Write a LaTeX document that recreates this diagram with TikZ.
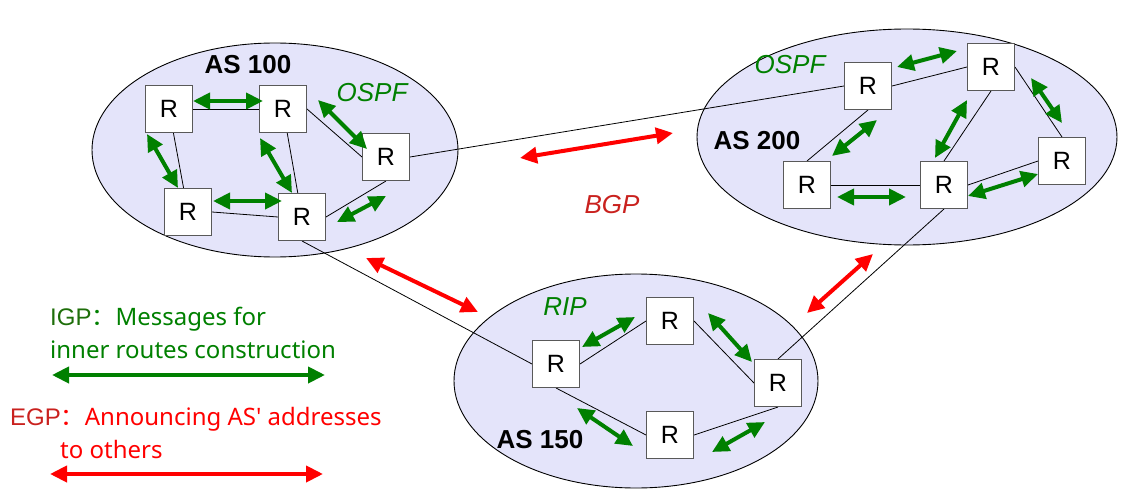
\documentclass[tikz,border=0pt]{standalone}
\usepackage{fontspec}
\setmainfont{Liberation Sans}
\newfontfamily\legendfont{Noto Sans}
\newfontfamily\cjkfont{Noto Sans CJK SC}
\usetikzlibrary{arrows.meta}
\definecolor{asfill}{RGB}{228,228,250}
\definecolor{igpgreen}{RGB}{0,128,0}
\definecolor{igpdark}{RGB}{30,110,10}
\definecolor{egpred}{RGB}{255,0,0}
\definecolor{bgpred}{RGB}{201,33,30}

\begin{document}
\begin{tikzpicture}[x=1pt, y=-1pt,
  router/.style={draw=black!65, fill=white, line width=1pt, minimum size=47pt, inner sep=0pt, font=\fontsize{25}{30}\selectfont},
  aslabel/.style={font=\fontsize{26}{30}\selectfont\bfseries},
  protolabel/.style={font=\fontsize{26}{30}\selectfont\itshape},
  link/.style={draw=black, line width=0.8pt},
  igp/.style={{Triangle[length=17pt,width=16pt]}-{Triangle[length=17pt,width=16pt]}, line width=4pt, draw=igpgreen},
  egp/.style={{Triangle[length=17pt,width=16pt]}-{Triangle[length=17pt,width=16pt]}, line width=4pt, draw=egpred},
  legend/.style={anchor=base west, inner sep=0pt, font=\fontsize{24}{28}\selectfont\legendfont}]
\useasboundingbox (0,0) rectangle (1136,495);

\draw[fill=asfill, line width=0.9pt] (275,150) ellipse (183 and 107);
\draw[fill=asfill, line width=0.9pt] (907,137) ellipse (210 and 108);
\draw[fill=asfill, line width=0.9pt] (636,381) ellipse (182 and 107);

\node[router] (a1) at (169,109) {};
\node[router] (a2) at (283,109) {};
\node[router] (a3) at (386,157) {};
\node[router] (a4) at (188,212) {};
\node[router] (a5) at (302,217) {};

\node[router] (b1) at (868,86) {};
\node[router] (b2) at (991,67) {};
\node[router] (b3) at (1062,161) {};
\node[router] (b4) at (807,185) {};
\node[router] (b5) at (944,185) {};

\node[router] (c1) at (556,364) {};
\node[router] (c2) at (670,321) {};
\node[router] (c3) at (670,435) {};
\node[router] (c4) at (778,383) {};

\draw[link] (a1.east) -- (a2.west);
\draw[link] (a1) -- (a4);
\draw[link] (a2) -- (a5);
\draw[link] (a2.east) -- (a3.west);
\draw[link] (a4.east) -- (a5.west);
\draw[link] (a3.south) -- (a5.east);
\draw[link] (b1.east) -- (b2.west);
\draw[link] (b1.south) -- (b4.north);
\draw[link] (b2.south) -- (b5.north);
\draw[link] (b2.east) -- (b3.north);
\draw[link] (b4.east) -- (b5.west);
\draw[link] (b5.east) -- (b3.west);
\draw[link] (c1.east) -- (c2.west);
\draw[link] (c1.south) -- (c3.west);
\draw[link] (c2.east) -- (c4.west);
\draw[link] (c3.east) -- (c4.south);
\draw[link] (a3.east) -- (b1.west);
\draw[link] (a5.south) -- (c1.west);
\draw[link] (b5.south) -- (c4.north);

\foreach \r in {a1,a2,a3,a4,a5,b1,b2,b3,b4,b5,c1,c2,c3,c4}
  \node[router] at (\r) {R};

\draw[igp] (193,101) -- (263,101);
\draw[igp] (147,134) -- (178,188);
\draw[igp] (260,138) -- (292,193);
\draw[igp] (213,201) -- (282,201);
\draw[igp] (318,100) -- (367,149);
\draw[igp] (337,222) -- (386,196);

\draw[igp] (897,67) -- (957,51);
\draw[igp] (832,156) -- (877,120);
\draw[igp] (935,158) -- (967,100);
\draw[igp] (1031,78) -- (1062,123);
\draw[igp] (837,197) -- (906,197);
\draw[igp] (968,196) -- (1038,174);

\draw[igp] (582,347) -- (635,317);
\draw[igp] (708,313) -- (752,362);
\draw[igp] (577,408) -- (633,446);
\draw[igp] (712,452) -- (765,422);

\draw[egp] (520,158) -- (673,133);
\draw[egp] (366,258) -- (478,312);
\draw[egp] (807,313) -- (873,254);

\node[aslabel] (as100) at (248,65) {AS 100};
\node[aslabel] (as200) at (757,141) {AS 200};
\node[aslabel] (as150) at (540,440) {AS 150};
\node[protolabel, text=igpgreen] (ospfa) at (372,93) {OSPF};
\node[protolabel, text=igpgreen] (ospfb) at (790,65) {OSPF};
\node[protolabel, text=igpgreen] (rip) at (565,307) {RIP};
\node[protolabel, text=bgpred] (bgp) at (612,205) {BGP};

\node[legend] (igptext) at (50,325) {\textcolor{igpdark}{\fontspec{Liberation Sans}IGP}\textcolor{igpgreen}{\cjkfont ：}\textcolor{igpgreen}{Messages for}};
\node[legend, text=igpgreen] (igptext2) at (50,358) {inner routes construction};
\node[legend] (egptext) at (10,425) {\textcolor{bgpred}{\fontspec{Liberation Sans}EGP}\textcolor{egpred}{\cjkfont ：}\textcolor{egpred}{Announcing AS' addresses}};
\node[legend, text=egpred] (egptext2) at (60,458) {to others};
\draw[igp] (52,375) -- (325,375);
\draw[egp] (50,474) -- (323,474);
\end{tikzpicture}
\end{document}
